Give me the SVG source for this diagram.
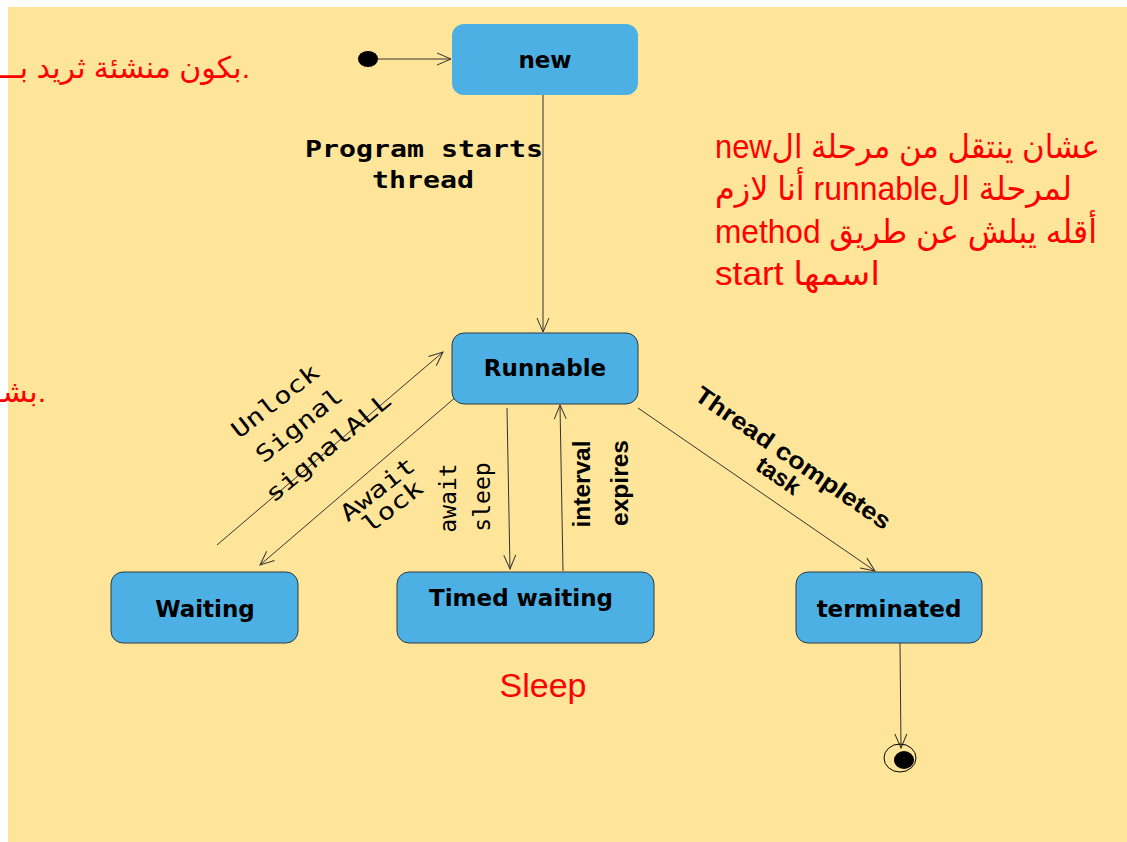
<svg xmlns="http://www.w3.org/2000/svg" width="1127" height="842" viewBox="0 0 1127 842">
<style>
.node{fill:#4db0e4;stroke:#2e3a40;stroke-width:1}
.lbl{font-family:"DejaVu Sans",sans-serif;font-weight:bold;font-size:23px;fill:#000;text-anchor:middle}
.mono{font-family:"DejaVu Sans Mono",monospace;font-size:23px;fill:#000;text-anchor:middle}
.sans{font-family:"Liberation Sans",Arial,sans-serif;font-weight:bold;font-size:24px;fill:#000;text-anchor:middle}
.red{font-family:"Liberation Sans","DejaVu Sans",sans-serif;fill:#ff0000}
.rtl{direction:rtl;unicode-bidi:embed}
.edge{stroke:#333;stroke-width:1;fill:none;marker-end:url(#arr)}
</style>
<defs>
<marker id="arr" markerUnits="userSpaceOnUse" markerWidth="18" markerHeight="16" refX="15" refY="7" orient="auto">
<path d="M1,1 L15,7 L1,13" fill="none" stroke="#333" stroke-width="1"/>
</marker>
</defs>
<rect x="0" y="0" width="1127" height="842" fill="#ffffff"/>
<rect x="8" y="7" width="1119" height="835" fill="#ffe599"/>

<g id="connectors">
<line class="edge" x1="378" y1="59" x2="451" y2="59"/>
<line class="edge" x1="543" y1="95" x2="543" y2="332"/>
<line class="edge" x1="217" y1="545" x2="443" y2="352"/>
<line class="edge" x1="457" y1="396" x2="260" y2="565"/>
<line class="edge" x1="507" y1="408" x2="510" y2="569"/>
<line class="edge" x1="563" y1="571" x2="560" y2="405"/>
<line class="edge" x1="638" y1="408" x2="875" y2="571"/>
<line class="edge" x1="900" y1="643" x2="901" y2="748"/>
</g>

<g id="initial">
<ellipse cx="368" cy="59" rx="10" ry="8" fill="#000"/>
</g>
<g id="final">
<ellipse cx="900" cy="758" rx="16" ry="14" fill="none" stroke="#000" stroke-width="1"/>
<ellipse cx="904" cy="760" rx="10" ry="9" fill="#000"/>
</g>

<g id="node-new">
<rect x="452" y="24" width="186" height="71" rx="12" fill="#4db0e4"/>
<text class="lbl" x="545" y="68">new</text>
</g>
<g id="node-runnable">
<rect class="node" x="452" y="333" width="186" height="71" rx="12"/>
<text class="lbl" x="545" y="376">Runnable</text>
</g>
<g id="node-waiting">
<rect class="node" x="111" y="572" width="187" height="71" rx="12"/>
<text class="lbl" x="205" y="617">Waiting</text>
</g>
<g id="node-timed">
<rect class="node" x="397" y="572" width="257" height="71" rx="12"/>
<text class="lbl" x="521" y="606">Timed waiting</text>
</g>
<g id="node-terminated">
<rect class="node" x="796" y="572" width="186" height="71" rx="12"/>
<text class="lbl" x="889" y="617">terminated</text>
</g>

<g id="labels">
<text class="mono" font-weight="bold" x="424" y="157" textLength="238" lengthAdjust="spacingAndGlyphs">Program starts</text>
<text class="mono" font-weight="bold" x="423" y="188" textLength="102" lengthAdjust="spacingAndGlyphs">thread</text>

<text class="mono" transform="translate(275,401) rotate(-38)" y="8" textLength="104" lengthAdjust="spacingAndGlyphs">Unlock</text>
<text class="mono" transform="translate(299,425) rotate(-39)" y="8" textLength="104" lengthAdjust="spacingAndGlyphs">Signal</text>
<text class="mono" transform="translate(328,447) rotate(-40)" y="8" textLength="156" lengthAdjust="spacingAndGlyphs">signalALL</text>

<text class="mono" transform="translate(378,490) rotate(-38)" y="7" textLength="88" lengthAdjust="spacingAndGlyphs">Await</text>
<text class="mono" transform="translate(393,507) rotate(-38)" y="7" textLength="70" lengthAdjust="spacingAndGlyphs">lock</text>

<text class="mono" transform="translate(448,498) rotate(-90)" y="8" font-size="24">await</text>
<text class="mono" transform="translate(484,497) rotate(-90)" y="6" font-size="24">sleep</text>

<text class="sans" transform="translate(590,484) rotate(-90)" y="0" textLength="87" lengthAdjust="spacingAndGlyphs">interval</text>
<text class="sans" transform="translate(628,483) rotate(-90)" y="0" textLength="86" lengthAdjust="spacingAndGlyphs">expires</text>

<text class="sans" transform="translate(793,458) rotate(34.6)" y="8" font-size="23" textLength="232" lengthAdjust="spacingAndGlyphs">Thread completes</text>
<text class="sans" transform="translate(793,458) rotate(34.6)" x="-2" y="31" font-size="23">task</text>
</g>

<g id="notes">
<text class="red rtl" font-size="30" x="250" y="78" text-anchor="start">.بكون منشئة ثريد بـــ</text>
<text class="red rtl" font-size="30" x="46" y="402" text-anchor="start">.بشـــ</text>
<text class="red rtl" font-size="33" x="715" y="158" text-anchor="end" textLength="385" lengthAdjust="spacingAndGlyphs">عشان ينتقل من مرحلة الnew</text>
<text class="red rtl" font-size="33" x="715" y="200" text-anchor="end" textLength="357" lengthAdjust="spacingAndGlyphs">لمرحلة الrunnable أنا لازم</text>
<text class="red rtl" font-size="33" x="715" y="243" text-anchor="end" textLength="382" lengthAdjust="spacingAndGlyphs">أقله يبلش عن طريق method</text>
<text class="red rtl" font-size="33" x="715" y="285" text-anchor="end" textLength="165" lengthAdjust="spacingAndGlyphs">اسمها start</text>
<text class="red" font-size="34" x="543" y="697" text-anchor="middle">Sleep</text>
</g>
</svg>
